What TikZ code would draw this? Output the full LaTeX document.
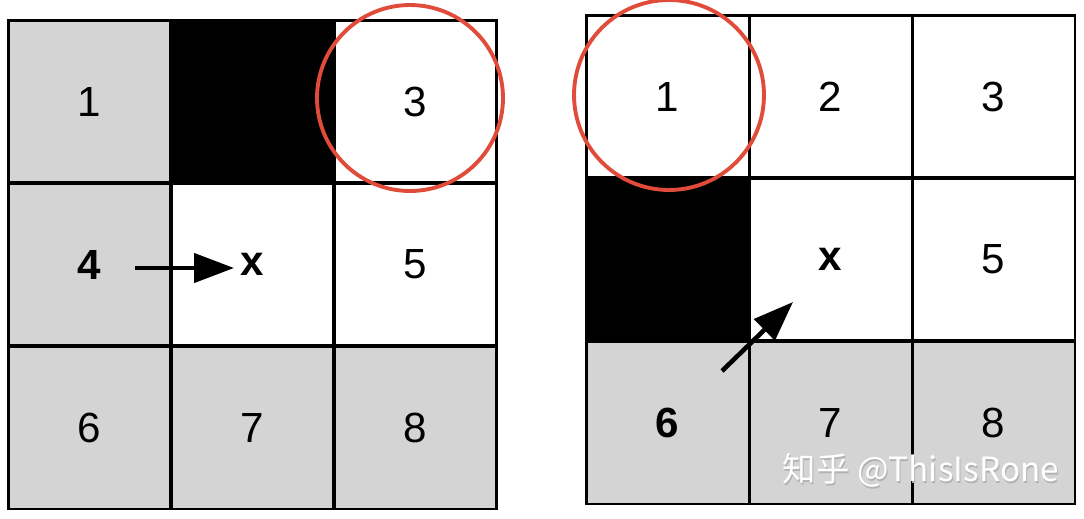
\documentclass[tikz,border=0pt]{standalone}
\usepackage{fontspec}
\setmainfont{Liberation Sans}
\newfontfamily\cjkfont{Noto Sans CJK SC}
\usepackage{xcolor}
\usepackage{tikz}
\usetikzlibrary{arrows.meta}

\definecolor{cellgray}{HTML}{D4D4D4}
\definecolor{ringred}{HTML}{E04B3A}
\tikzset{
  cell/.style={draw,line width=1.7pt,minimum size=3.26cm,inner sep=0pt,
    font=\fontsize{24}{28}\selectfont},
  freecell/.style={cell,fill=white},
  graycell/.style={cell,fill=cellgray},
  wallcell/.style={cell,fill=black},
  ring/.style={draw=ringred,line width=2.2pt},
  move/.style={line width=2.6pt,-{Triangle[length=0.8cm,width=0.58cm]}}
}

\begin{document}
\begin{tikzpicture}[x={(0.02cm,0)},y={(0,-0.02cm)}]
            \fill[white] (0,0) rectangle (1084,518);
            \useasboundingbox (0,0) rectangle (1084,518);

            \node[graycell] (L1) at (89.5,101.5) {1};
            \node[wallcell] (L2) at (252.5,101.5) {};
            \node[freecell] (L3) at (415.5,101.5) {3};
            \node[graycell] (L4) at (89.5,264.5) {\bfseries 4};
            \node[freecell] (Lx) at (252.5,264.5) {\bfseries x};
            \node[freecell] (L5) at (415.5,264.5) {5};
            \node[graycell] (L6) at (89.5,427.5) {6};
            \node[graycell] (L7) at (252.5,427.5) {7};
            \node[graycell] (L8) at (415.5,427.5) {8};

            \node[freecell] (R1) at (667.5,96.5) {1};
            \node[freecell] (R2) at (830.5,96.5) {2};
            \node[freecell] (R3) at (993.5,96.5) {3};
            \node[wallcell] (R4) at (667.5,259.5) {};
            \node[freecell] (Rx) at (830.5,259.5) {\bfseries x};
            \node[freecell] (R5) at (993.5,259.5) {5};
            \node[graycell] (R6) at (667.5,422.5) {\bfseries 6};
            \node[graycell] (R7) at (830.5,422.5) {7};
            \node[graycell] (R8) at (993.5,422.5) {8};

            \draw[ring] (410,98) circle (1.86cm);
            \draw[ring] (669,95) circle (1.9cm);

            \coordinate (Lfrom) at (135,268);
            \coordinate (Lto) at (234,268);
            \coordinate (Rfrom) at (722,371);
            \coordinate (Rto) at (793,302);
            \draw[move] (Lfrom) -- (Lto);
            \draw[move] (Rfrom) -- (Rto);

            \node[text=black!30,font=\cjkfont\fontsize{19}{22}\selectfont] (markshadow) at (922,472) {知乎 @ThisIsRone};
            \node[text=white,font=\cjkfont\fontsize{19}{22}\selectfont] (mark) at (921,470) {知乎 @ThisIsRone};
        \end{tikzpicture}
\end{document}
